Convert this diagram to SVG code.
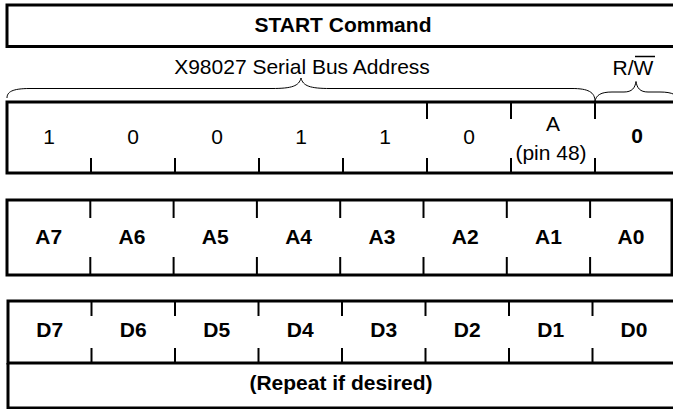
<svg xmlns="http://www.w3.org/2000/svg" width="673" height="409" viewBox="0 0 673 409">
<style>
.box{fill:none;stroke:#000;stroke-width:3}
.tick{stroke:#000;stroke-width:2}
.brace{fill:none;stroke:#000;stroke-width:1}
text{font-family:"Liberation Sans",Arial,sans-serif;font-size:21px;fill:#000;text-anchor:middle}
.b{font-weight:bold}
</style>
<rect width="673" height="409" fill="#fff"/>
<g id="start">
<rect class="box" x="7" y="5" width="672" height="41.5"/>
<text class="b" x="343" y="32">START Command</text>
</g>
<g id="labels">
<text x="302" y="74">X98027 Serial Bus Address</text>
<text x="633" y="75">R/W</text>
<line x1="635" y1="56.5" x2="655" y2="56.5" stroke="#000" stroke-width="1.5"/>
</g>
<g id="connectors">
<path class="brace" d="M7,98 C7,92 12,88.5 30,88.5 L272,88.5 C292,88.5 299,86 301,78 C303,86 310,88.5 330,88.5 L572,88.5 C588,88.5 595,92 595,101.5"/>
<path class="brace" d="M595,101.5 C596,95 601,92 612,92 L624,92 C632,92 635,88 636,81.5 C637,88 640,92 648,92 L660,92 C672,92 679,95 679,101.5"/>
</g>
<g id="address">
<rect class="box" x="7" y="102" width="672" height="71"/>
<g class="tick">
<line x1="427" y1="102" x2="427" y2="119"/><line x1="511" y1="102" x2="511" y2="119"/><line x1="595" y1="102" x2="595" y2="119"/>
<line x1="91" y1="158" x2="91" y2="173"/><line x1="175" y1="158" x2="175" y2="173"/><line x1="259" y1="158" x2="259" y2="173"/><line x1="343" y1="158" x2="343" y2="173"/><line x1="427" y1="158" x2="427" y2="173"/><line x1="511" y1="158" x2="511" y2="173"/><line x1="595" y1="158" x2="595" y2="173"/>
</g>
<text x="49" y="144">1</text><text x="133" y="144">0</text><text x="217" y="144">0</text><text x="301" y="144">1</text><text x="385" y="144">1</text><text x="469" y="144">0</text>
<text x="553" y="131">A</text><text x="551" y="160">(pin 48)</text>
<text class="b" x="637" y="143">0</text>
</g>
<g id="addrbyte">
<rect class="box" x="7" y="200" width="665" height="75"/>
<g class="tick">
<line x1="90.3" y1="200" x2="90.3" y2="218"/><line x1="173.6" y1="200" x2="173.6" y2="218"/><line x1="256.9" y1="200" x2="256.9" y2="218"/><line x1="340.2" y1="200" x2="340.2" y2="218"/><line x1="423.5" y1="200" x2="423.5" y2="218"/><line x1="506.8" y1="200" x2="506.8" y2="218"/><line x1="590.1" y1="200" x2="590.1" y2="218"/>
<line x1="90.3" y1="257" x2="90.3" y2="275"/><line x1="173.6" y1="257" x2="173.6" y2="275"/><line x1="256.9" y1="257" x2="256.9" y2="275"/><line x1="340.2" y1="257" x2="340.2" y2="275"/><line x1="423.5" y1="257" x2="423.5" y2="275"/><line x1="506.8" y1="257" x2="506.8" y2="275"/><line x1="590.1" y1="257" x2="590.1" y2="275"/>
</g>
<text class="b" x="48.7" y="244">A7</text><text class="b" x="132" y="244">A6</text><text class="b" x="215.3" y="244">A5</text><text class="b" x="298.6" y="244">A4</text><text class="b" x="381.9" y="244">A3</text><text class="b" x="465.2" y="244">A2</text><text class="b" x="548.5" y="244">A1</text><text class="b" x="631" y="244">A0</text>
</g>
<g id="databyte">
<rect class="box" x="8" y="301" width="668" height="62"/>
<g class="tick">
<line x1="91.5" y1="301" x2="91.5" y2="316"/><line x1="175" y1="301" x2="175" y2="316"/><line x1="258.5" y1="301" x2="258.5" y2="316"/><line x1="342" y1="301" x2="342" y2="316"/><line x1="425.5" y1="301" x2="425.5" y2="316"/><line x1="509" y1="301" x2="509" y2="316"/><line x1="592.5" y1="301" x2="592.5" y2="316"/>
<line x1="91.5" y1="348" x2="91.5" y2="363"/><line x1="175" y1="348" x2="175" y2="363"/><line x1="258.5" y1="348" x2="258.5" y2="363"/><line x1="342" y1="348" x2="342" y2="363"/><line x1="425.5" y1="348" x2="425.5" y2="363"/><line x1="509" y1="348" x2="509" y2="363"/><line x1="592.5" y1="348" x2="592.5" y2="363"/>
</g>
<text class="b" x="49.7" y="337">D7</text><text class="b" x="133.2" y="337">D6</text><text class="b" x="216.7" y="337">D5</text><text class="b" x="300.2" y="337">D4</text><text class="b" x="383.7" y="337">D3</text><text class="b" x="467.2" y="337">D2</text><text class="b" x="550.7" y="337">D1</text><text class="b" x="634" y="337">D0</text>
</g>
<g id="repeat">
<path class="box" d="M676,363 V408 H8 V363" stroke-width="2"/>
<text class="b" x="341" y="390">(Repeat if desired)</text>
</g>
</svg>
